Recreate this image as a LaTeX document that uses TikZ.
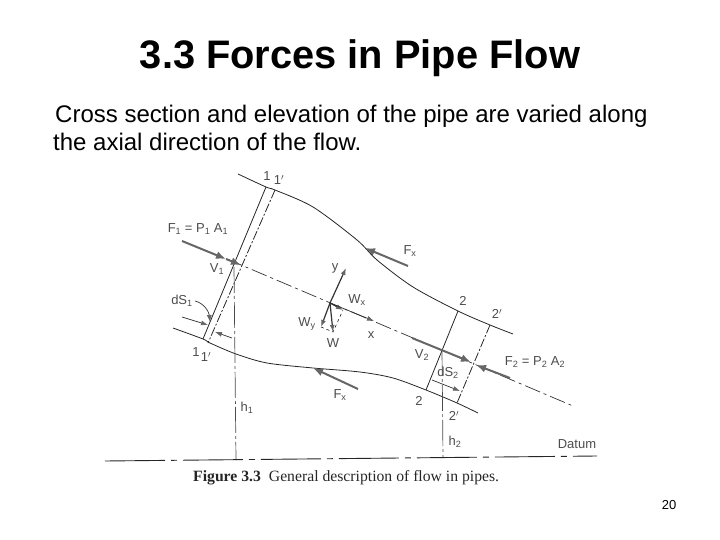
\documentclass[tikz,border=0pt]{standalone}
\usepackage{fontspec}
\setmainfont{Liberation Sans}
\newfontfamily\capfont{Liberation Serif}
\usetikzlibrary{arrows.meta}
\tikzset{
  wall/.style={line width=0.8pt,color=black!85},
  section/.style={line width=0.8pt,color=black!85},
  sectiondash/.style={line width=0.8pt,color=black!85,dash pattern=on 9pt off 2pt on 2pt off 2pt},
  axisline/.style={line width=0.7pt,color=black!80,dash pattern=on 16pt off 4pt on 3pt off 4pt},
  heightline/.style={line width=0.7pt,color=black!70,dash pattern=on 26pt off 3pt on 3pt off 3pt},
  datumline/.style={line width=0.9pt,color=black!85,dash pattern=on 60pt off 6pt on 6pt off 6pt},
  forcearrow/.style={line width=2pt,color=black!60,-{Latex[length=10pt,width=8pt]}},
  thinarrow/.style={line width=0.7pt,color=black!80,-{Latex[length=7pt,width=5pt,color=black!60]}},
  lbl/.style={font=\fontsize{13}{15}\selectfont,color=black!70,inner sep=0pt},
}
\newcommand{\sub}[1]{\textsubscript{#1}}
\begin{document}
\begin{tikzpicture}[x=1pt,y=-1pt]
\useasboundingbox (0,0) rectangle (720,540);
% pipe walls
\coordinate (TS) at (238,174);
\coordinate (TA) at (266,187);
\coordinate (TB) at (275,190);
\coordinate (TC) at (458,311);
\coordinate (TD) at (490,325);
\coordinate (TE) at (513,334);
\coordinate (BS) at (173,328);
\coordinate (BA) at (203,339);
\coordinate (BB) at (208,343);
\coordinate (BC) at (426,390);
\coordinate (BD) at (457,403);
\coordinate (BE) at (478,413);
% axis and forces
\coordinate (AS) at (227,259);
\coordinate (AE) at (573,406);
\coordinate (O) at (330,303);
\coordinate (Fa) at (182,241);
\coordinate (Fb) at (226,259);
\coordinate (Va) at (226,259);
\coordinate (Vb) at (241,265);
\coordinate (Fc) at (510,378);
\coordinate (Fd) at (476,365);
\coordinate (Ve) at (412,338);
\coordinate (Vf) at (471,362);
\coordinate (Fe) at (408,266);
\coordinate (Ff) at (365,248);
\coordinate (Fg) at (358,389);
\coordinate (Fh) at (313,368);
\coordinate (Y) at (346,268);
\coordinate (W) at (333,332);
\coordinate (WY) at (321,327);
\coordinate (WX) at (343,310);
\coordinate (X) at (374,321);
% heights and datum
\coordinate (H1a) at (234,267);
\coordinate (H1b) at (236,460);
\coordinate (H2a) at (442,350);
\coordinate (H2b) at (443,457);
\coordinate (DS) at (105,461);
\coordinate (DE) at (597,456);

\draw[wall] plot[smooth,tension=0.5] coordinates {(TS) (TA) (TB) (313,207) (357,240) (377,260) (413,287) (TC) (TD) (TE)};
\draw[wall] plot[smooth,tension=0.5] coordinates {(BS) (BA) (210,343) (236,354) (267,363) (313,368) (360,372) (393,378) (BC) (BD) (BE)};
\draw[section] (TA) -- (BA);
\draw[sectiondash] (TB) -- (BB);
\draw[section] (TC) -- (BC);
\draw[sectiondash] (TD) -- (BD);
\draw[axisline] (AS) -- (AE);
\draw[heightline] (H1a) -- (H1b);
\draw[heightline] (H2a) -- (H2b);
\draw[datumline] (DS) -- (DE);

\draw[forcearrow] (Fa) -- (Fb);
\draw[forcearrow] (Va) -- (Vb);
\draw[forcearrow] (Ve) -- (Vf);
\draw[forcearrow] (Fc) -- (Fd);
\draw[forcearrow] (Fe) -- (Ff);
\draw[forcearrow] (Fg) -- (Fh);

\draw[thinarrow,line width=1.2pt] (O) -- (Y);
\draw[thinarrow,line width=1.2pt] (O) -- (W);
\draw[thinarrow,line width=1.2pt] (O) -- (WY);
\draw[thinarrow,line width=1.2pt] (O) -- (WX);
\draw[thinarrow] (O) -- (X);
\draw[line width=0.5pt,dashed] (WY) -- (W) -- (WX);

% section widths
\coordinate (Da) at (182,317);
\coordinate (Db) at (208,325);
\coordinate (Dc) at (232,338);
\coordinate (Dd) at (215,332);
\coordinate (De) at (195,301);
\coordinate (Df) at (210,322);
\coordinate (Dg) at (432,380);
\coordinate (Dh) at (460,391);
\draw[thinarrow] (Da) -- (Db);
\draw[thinarrow] (Dc) -- (Dd);
\draw[thinarrow] (De) .. controls (204,303) and (209,312) .. (Df);
\draw[thinarrow] (Dg) -- (Dh);

% labels
\node[lbl] (l1) at (267,176) {1};
\node[lbl] (l1p) at (279,180) {1$'$};
\node[lbl] (lF1) at (198,229) {F\sub{1} = P\sub{1} A\sub{1}};
\node[lbl] (lV1) at (217,269) {V\sub{1}};
\node[lbl] (ldS1) at (182,301) {dS\sub{1}};
\node[lbl] (ly) at (335,268) {y};
\node[lbl] (lWx) at (357,300) {W\sub{x}};
\node[lbl] (lWy) at (307,324) {W\sub{y}};
\node[lbl] (lW) at (333,343) {W};
\node[lbl] (lx) at (371,335) {x};
\node[lbl] (lFxa) at (410,251) {F\sub{x}};
\node[lbl] (lFxb) at (340,395) {F\sub{x}};
\node[lbl] (l2) at (463,301) {2};
\node[lbl] (l2p) at (497,314) {2$'$};
\node[lbl] (lV2) at (422,355) {V\sub{2}};
\node[lbl] (lF2) at (535,362) {F\sub{2} = P\sub{2} A\sub{2}};
\node[lbl] (ldS2) at (448,373) {dS\sub{2}};
\node[lbl] (l2b) at (419,401) {2};
\node[lbl] (l2c) at (454,416) {2$'$};
\node[lbl] (l1b) at (196,352) {1};
\node[lbl] (l1c) at (206,357) {1$'$};
\node[lbl] (lh1) at (247,408) {h\sub{1}};
\node[lbl] (lh2) at (455,442) {h\sub{2}};
\node[lbl] (ldatum) at (577,444) {Datum};

% slide text
\node[font=\fontsize{39.8}{44}\selectfont\bfseries,inner sep=0pt] (title) at (360,58) {3.3 Forces in Pipe Flow};
\node[font=\fontsize{24}{28}\selectfont,anchor=base west,inner sep=0pt] (line1) at (55,123) {Cross section and elevation of the pipe are varied along};
\node[font=\fontsize{24}{28}\selectfont,anchor=base west,inner sep=0pt] (line2) at (53,151) {the axial direction of the flow.};
\node[font=\capfont\fontsize{15.7}{18}\selectfont,anchor=base west,inner sep=0pt,color=black!85] (caption) at (193,481) {\textbf{Figure 3.3}\hspace{8pt}General description of flow in pipes.};
\node[font=\fontsize{13}{15}\selectfont,inner sep=0pt] (page) at (669,505) {20};
\end{tikzpicture}
\end{document}
